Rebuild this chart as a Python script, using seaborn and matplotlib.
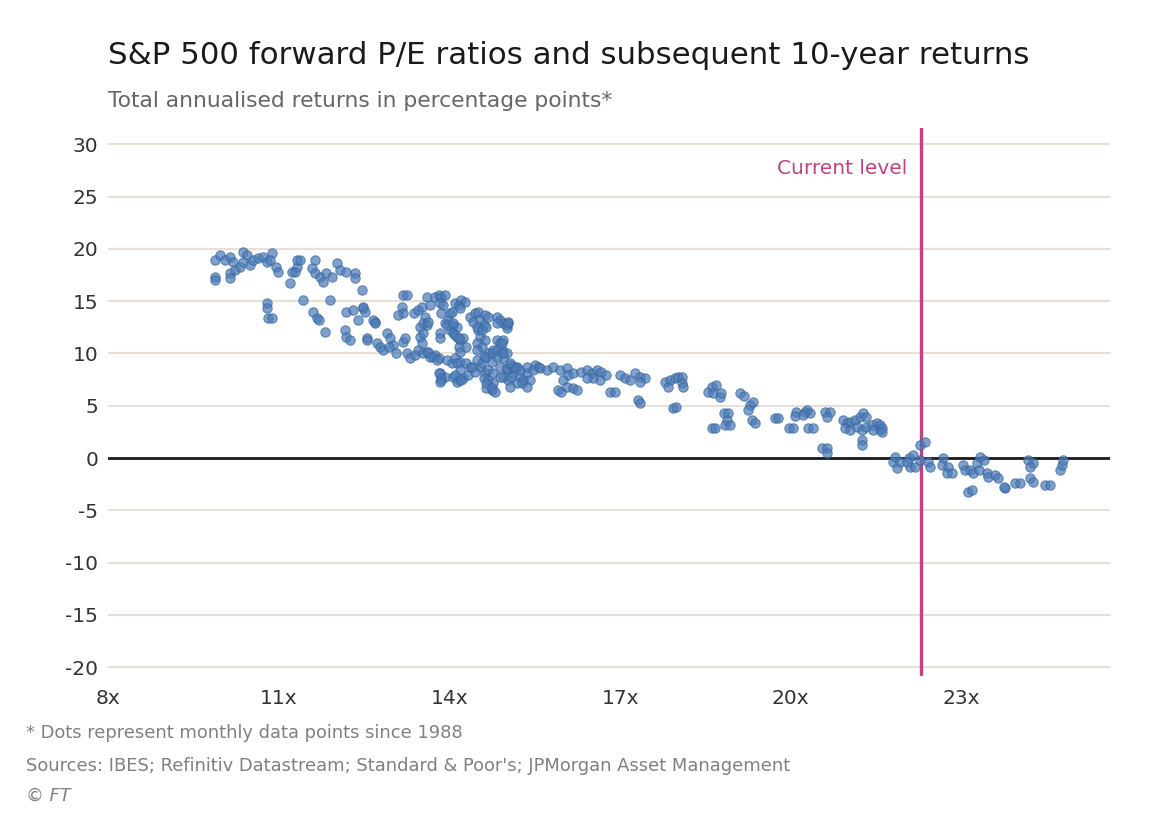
import matplotlib
matplotlib.use("Agg")
import matplotlib.pyplot as plt
import seaborn as sns
import pandas as pd

# ---- data ----
pe_ratio = [
    9.88, 9.97, 10.06, 10.14, 10.20, 9.88, 9.88, 10.14, 10.14, 10.23, 10.32, 10.38, 10.44, 10.38, 10.50,
    10.55, 10.64, 10.73, 10.79, 10.88, 10.85, 10.96, 10.99, 10.79, 10.79, 10.82, 10.88, 11.20, 11.23, 11.32,
    11.32, 11.37, 11.29, 11.64, 11.58, 11.64, 11.73, 11.78, 11.84, 11.93, 12.02, 12.08, 12.19, 12.34, 12.34,
    12.46, 11.43, 11.61, 11.67, 11.70, 11.90, 11.81, 12.19, 12.31, 12.49, 12.40, 12.17, 12.19, 12.25, 12.55,
    12.69, 12.72,
    12.49, 12.52, 12.66, 12.69, 12.55, 12.78, 12.84, 12.90, 12.96, 13.01, 13.07, 12.93, 13.19, 13.25, 13.16,
    13.19, 13.10, 13.19, 13.22, 13.25, 13.31, 13.40, 13.45, 13.37, 13.45, 13.51, 13.60, 13.57, 13.66, 13.48,
    13.54, 13.60, 13.63, 13.48, 13.54, 13.51, 13.60, 13.66, 13.75, 13.81, 13.75, 13.81, 13.86, 13.92, 13.83,
    13.89, 13.86, 13.83, 13.83, 13.92, 13.98, 14.01, 14.04, 14.07, 14.13, 14.01, 14.10, 14.16, 14.21, 14.27,
    14.19, 13.95, 14.04, 14.10, 14.19, 13.92, 13.86, 13.83, 14.07, 14.13, 14.19, 14.24, 14.16, 14.19, 14.30,
    14.07, 14.16, 14.24, 14.33, 14.36, 14.30, 14.36, 14.45, 14.51, 14.42, 14.54, 14.63, 14.68, 14.60, 14.51,
    14.54, 14.63, 14.48, 14.57, 14.48, 14.60, 14.68, 14.74, 14.54, 14.45, 14.63, 14.68, 14.77, 14.65, 14.74,
    14.83, 14.89, 14.95, 15.03, 15.01, 14.83, 14.89, 14.95, 14.92, 15.01, 14.95, 14.83, 14.77, 14.89, 15.01,
    15.09, 15.18, 15.12, 15.24, 15.36, 15.42, 15.30, 15.18, 15.03, 14.95, 15.07, 15.50, 15.56,
    15.01, 15.12, 15.24, 15.36, 15.47, 15.59, 15.71, 15.82, 15.94, 16.06, 16.09, 16.18, 16.00, 15.91, 15.97,
    16.06, 16.18, 16.24, 16.32, 16.41, 16.50, 16.59, 16.67, 16.76, 16.65, 16.53, 16.41, 16.82, 16.91, 17.00,
    17.09, 17.17, 17.26, 17.35, 17.44, 17.35, 17.32, 17.35, 17.79, 17.88, 17.97, 18.02, 17.84, 17.93, 17.99,
    13.54, 13.63, 13.72, 13.78, 13.81, 13.86, 13.83, 14.13, 14.19, 14.10, 14.13, 14.21, 14.39, 14.48, 14.57,
    14.65, 14.74, 14.83, 14.92, 14.95, 14.68, 14.77, 14.60, 14.65, 14.74, 14.80, 14.89, 15.09, 15.27, 15.36,
    15.15, 15.07, 13.95, 14.07, 14.10, 14.16, 14.48, 14.57, 14.65, 14.83, 15.01, 15.03,
    18.08, 18.08, 18.11, 18.55, 18.61, 18.69, 18.64, 18.76, 18.78, 18.61, 18.67, 18.82, 18.90, 18.87, 18.84,
    18.93, 19.11, 19.17, 19.28, 19.34, 19.25, 19.31, 19.37, 19.72, 19.78, 19.96, 20.04, 20.10, 20.07, 20.25,
    20.28, 20.34, 20.22, 20.31, 20.39, 20.60, 20.69, 20.63, 20.54, 20.63, 20.63, 20.92, 20.98, 21.04, 21.13,
    21.22, 21.27, 21.33, 20.95, 21.04, 21.16, 21.25, 21.33, 21.42, 21.51, 21.57, 21.45, 21.57, 21.25, 21.25,
    21.60, 21.60,
    21.83, 21.80, 21.86, 21.92, 22.07, 22.15, 22.09, 22.18, 22.04, 22.27, 22.36, 22.27, 22.42, 22.45, 22.68,
    22.65, 22.77, 22.74, 22.83, 23.03, 23.06, 23.15, 23.21, 23.27, 23.33, 23.39, 23.30, 23.12, 23.18, 23.44,
    23.47, 23.59, 23.65, 23.77, 23.74, 23.94, 24.03, 24.17, 24.26, 24.20, 24.20, 24.26, 24.47, 24.56, 24.73,
    24.76, 24.79,
]
ret_10y = [
    18.93, 19.41, 18.93, 19.24, 18.77, 17.33, 17.02, 17.66, 17.18, 17.97, 18.29, 19.72, 19.41, 18.77, 18.45,
    18.93, 19.09, 19.24, 18.77, 19.57, 18.93, 18.29, 17.81, 14.79, 14.31, 13.36, 13.36, 16.70, 17.81, 18.29,
    18.93, 18.93, 17.81, 18.93, 18.13, 17.66, 17.33, 16.86, 17.66, 17.33, 18.61, 17.97, 17.81, 17.66, 17.18,
    16.06, 15.11, 13.99, 13.36, 13.19, 15.11, 12.07, 13.99, 14.15, 14.31, 13.19, 12.24, 11.60, 11.28, 11.44,
    13.03, 10.97,
    14.47, 13.99, 13.19, 12.88, 11.28, 10.64, 10.33, 11.92, 11.44, 10.80, 10.01, 10.64, 15.58, 15.58, 14.47,
    13.83, 13.67, 11.12, 11.44, 10.01, 9.53, 9.85, 10.33, 13.83, 14.15, 14.47, 15.42, 13.51, 14.63, 12.55,
    12.88, 12.72, 13.03, 11.60, 11.92, 10.97, 10.16, 9.69, 9.85, 9.53, 15.42, 15.58, 15.42, 15.58, 14.79,
    14.63, 13.83, 11.92, 11.44, 12.88, 13.19, 13.83, 13.99, 12.72, 12.55, 12.24, 14.79, 14.63, 15.11, 14.95,
    14.31, 9.37, 9.05, 9.53, 9.21, 7.77, 7.46, 8.10, 11.92, 11.60, 11.28, 11.44, 10.64, 10.16, 10.64,
    7.77, 7.46, 7.62, 7.93, 8.73, 9.05, 13.51, 13.83, 13.99, 13.03, 13.19, 13.67, 13.51, 12.72, 12.24,
    11.60, 11.28, 10.97, 10.64, 10.33, 9.69, 10.01, 9.21, 8.73, 8.25, 8.10, 7.46, 7.14, 6.66, 6.50,
    13.51, 13.19, 12.88, 12.88, 12.40, 11.28, 10.97, 11.28, 10.33, 10.01, 9.53, 9.69, 10.33, 8.73, 8.41,
    8.89, 8.73, 8.10, 7.77, 8.10, 7.46, 7.46, 7.14, 7.46, 7.77, 6.82, 8.89, 8.73,
    8.57, 8.73, 8.41, 8.73, 8.41, 8.57, 8.41, 8.73, 8.41, 8.57, 7.93, 8.10, 7.46, 6.50, 6.34,
    6.82, 6.66, 6.50, 8.25, 8.41, 8.10, 8.41, 8.25, 7.93, 7.46, 7.62, 7.62, 6.34, 6.34, 7.93,
    7.62, 7.46, 8.10, 7.77, 7.62, 7.30, 5.54, 5.23, 7.30, 7.46, 7.62, 7.77, 6.82, 4.75, 4.91,
    10.01, 10.16, 9.69, 9.37, 8.10, 7.62, 7.30, 9.05, 8.41, 7.93, 7.30, 7.46, 8.73, 9.37, 9.05,
    9.69, 10.01, 10.33, 10.97, 10.01, 8.41, 8.10, 7.62, 7.14, 6.66, 6.34, 7.77, 7.77, 7.14, 6.82,
    8.73, 9.05, 12.72, 12.88, 11.76, 11.44, 12.55, 12.24, 12.55, 12.88, 12.72, 13.03,
    7.77, 7.14, 6.82, 6.34, 6.82, 6.98, 6.18, 5.86, 6.18, 2.84, 2.84, 4.27, 4.27, 3.63, 3.15,
    3.15, 6.18, 5.93, 5.07, 5.38, 4.59, 3.63, 3.31, 3.79, 3.79, 2.84, 2.84, 4.43, 4.02, 4.43,
    4.59, 4.27, 4.11, 2.84, 2.84, 4.43, 4.43, 3.95, 0.93, 0.93, 0.45, 3.63, 3.31, 3.47, 3.63,
    3.95, 4.27, 3.95, 2.84, 2.68, 2.99, 2.68, 2.99, 3.15, 3.31, 3.15, 2.68, 2.68, 1.72, 1.24,
    2.84, 2.52,
    0.13, -0.35, -0.99, -0.35, -0.03, 0.29, -0.83, -0.83, -0.35, 1.24, 1.56, -0.19, -0.35, -0.83, -0.03,
    -0.67, -0.83, -1.46, -1.46, -0.67, -1.15, -1.15, -1.46, -0.51, 0.13, -0.19, -1.15, -3.22, -3.06, -1.46,
    -1.79, -1.63, -1.94, -2.90, -2.74, -2.42, -2.42, -0.19, -0.51, -0.83, -1.94, -2.26, -2.58, -2.58, -1.15,
    -0.67, -0.19,
]
current_pe = 22.29
x_ticks = [8, 11, 14, 17, 20, 23]
x_tick_labels = ["8x", "11x", "14x", "17x", "20x", "23x"]
y_ticks = [30, 25, 20, 15, 10, 5, 0, -5, -10, -15, -20]

df = pd.DataFrame({"pe": pe_ratio, "ret": ret_10y})

sns.set_theme(style="white")
plt.rcParams["font.family"] = ["DejaVu Sans"]

fig = plt.figure(figsize=(11.56, 8.16), dpi=100)
ax = fig.add_axes([108 / 1156, 1 - 676 / 816, (1110 - 108) / 1156, (676 - 128) / 816])

grid_c = "#e8dfd7"
for yv in y_ticks:
    if yv != 0:
        ax.axhline(yv, color=grid_c, lw=1.5, zorder=1)
ax.axhline(0, color="#1a1a1a", lw=2.0, zorder=2)
ax.axvline(current_pe, color="#bf447f", lw=2.4, zorder=2)

sns.scatterplot(data=df, x="pe", y="ret", ax=ax, s=46, color="#4d7cb8",
                alpha=0.72, edgecolor="#34639c", linewidth=0.7, zorder=3)

ax.set_xlim(8, 8 + (1110 - 108) / 56.9)
ax.set_ylim(-20.84, 31.55)
ax.set_xticks(x_ticks)
ax.set_xticklabels(x_tick_labels)
ax.set_yticks(y_ticks)
ax.set_yticklabels([str(v) for v in y_ticks])
ax.tick_params(axis="both", length=0, labelsize=14.5, labelcolor="#333333")
ax.tick_params(axis="x", pad=9)
ax.tick_params(axis="y", pad=7)
ax.set_xlabel("")
ax.set_ylabel("")
for sp in ax.spines.values():
    sp.set_visible(False)

ax.text(current_pe - 0.25, 27.7, "Current level", color="#bf447f", fontsize=14.5,
        ha="right", va="center")

fig.text(108 / 1156, 1 - 55 / 816, "S&P 500 forward P/E ratios and subsequent 10-year returns",
         fontsize=22.2, color="#1a1a1a", ha="left", va="center")
fig.text(108 / 1156, 1 - 101 / 816, "Total annualised returns in percentage points*",
         fontsize=15.7, color="#666666", ha="left", va="center")
fig.text(26 / 1156, 1 - 733 / 816, "* Dots represent monthly data points since 1988",
         fontsize=12.9, color="#808080", ha="left", va="center")
fig.text(26 / 1156, 1 - 766 / 816,
         "Sources: IBES; Refinitiv Datastream; Standard & Poor's; JPMorgan Asset Management",
         fontsize=12.9, color="#808080", ha="left", va="center")
fig.text(26 / 1156, 1 - 796 / 816, "© FT", fontsize=12.9, color="#808080",
         ha="left", va="center", style="italic")

fig.savefig("out.png", dpi=100)
